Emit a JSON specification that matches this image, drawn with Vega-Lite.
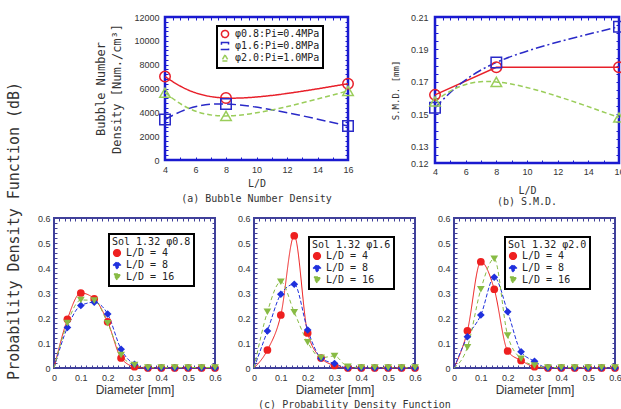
{
  "$schema": "https://vega.github.io/schema/vega-lite/v6.json",
  "background": "white",
  "padding": {"left": 7, "top": 11, "right": 0, "bottom": 0},
  "title": {"text": "Probability Density Function (dB)", "orient": "left", "anchor": "middle", "font": "DejaVu Sans Mono", "fontSize": 15, "fontWeight": "normal", "color": "#333", "offset": 14, "dx": -20},
  "config": {
    "view": {"stroke": null},
    "axis": {"labelFont": "Liberation Sans", "labelFontSize": 9, "labelColor": "#333", "titleFont": "DejaVu Sans Mono", "titleFontSize": 10, "titleFontWeight": "normal", "titleColor": "#333", "grid": false, "domain": false, "tickSize": 3, "offset": -3, "labelFlush": false, "labelOverlap": false, "labelBound": false},
    "title": {"font": "DejaVu Sans Mono", "fontSize": 10, "fontWeight": "normal", "color": "#333"},
    "legend": {"orient": "none", "strokeColor": "black", "strokeWidth": 2, "fillColor": "white", "labelFont": "DejaVu Sans Mono", "labelColor": "#222", "titleFont": "DejaVu Sans Mono", "titleFontWeight": "normal", "titleColor": "#222"}
  },
  "datasets": {
    "a": [
      {"ld": 4, "n": 7000, "s": "φ0.8:Pi=0.4MPa"},
      {"ld": 8, "n": 5200, "s": "φ0.8:Pi=0.4MPa"},
      {"ld": 16, "n": 6400, "s": "φ0.8:Pi=0.4MPa"},
      {"ld": 4, "n": 3400, "s": "φ1.6:Pi=0.8MPa"},
      {"ld": 8, "n": 4700, "s": "φ1.6:Pi=0.8MPa"},
      {"ld": 16, "n": 2850, "s": "φ1.6:Pi=0.8MPa"},
      {"ld": 4, "n": 5650, "s": "φ2.0:Pi=1.0MPa"},
      {"ld": 8, "n": 3700, "s": "φ2.0:Pi=1.0MPa"},
      {"ld": 16, "n": 5800, "s": "φ2.0:Pi=1.0MPa"}
    ],
    "b": [
      {"ld": 4, "smd": 0.162, "s": "φ0.8:Pi=0.4MPa"},
      {"ld": 8, "smd": 0.179, "s": "φ0.8:Pi=0.4MPa"},
      {"ld": 16, "smd": 0.179, "s": "φ0.8:Pi=0.4MPa"},
      {"ld": 4, "smd": 0.154, "s": "φ1.6:Pi=0.8MPa"},
      {"ld": 8, "smd": 0.182, "s": "φ1.6:Pi=0.8MPa"},
      {"ld": 16, "smd": 0.204, "s": "φ1.6:Pi=0.8MPa"},
      {"ld": 4, "smd": 0.158, "s": "φ2.0:Pi=1.0MPa"},
      {"ld": 8, "smd": 0.170, "s": "φ2.0:Pi=1.0MPa"},
      {"ld": 16, "smd": 0.148, "s": "φ2.0:Pi=1.0MPa"}
    ],
    "c": [
      {"p": "0.8", "d": 0, "ld4": 0, "ld8": 0, "ld16": 0},
      {"p": "0.8", "d": 0.05, "ld4": 0.195, "ld8": 0.162, "ld16": 0.18},
      {"p": "0.8", "d": 0.1, "ld4": 0.3, "ld8": 0.25, "ld16": 0.272},
      {"p": "0.8", "d": 0.15, "ld4": 0.277, "ld8": 0.263, "ld16": 0.27},
      {"p": "0.8", "d": 0.2, "ld4": 0.185, "ld8": 0.216, "ld16": 0.179},
      {"p": "0.8", "d": 0.25, "ld4": 0.04, "ld8": 0.075, "ld16": 0.052},
      {"p": "0.8", "d": 0.3, "ld4": 0.005, "ld8": 0.015, "ld16": 0.012},
      {"p": "0.8", "d": 0.35, "ld4": 0, "ld8": 0, "ld16": 0.002},
      {"p": "0.8", "d": 0.4, "ld4": 0, "ld8": 0, "ld16": 0.002},
      {"p": "0.8", "d": 0.45, "ld4": 0, "ld8": 0, "ld16": 0.002},
      {"p": "0.8", "d": 0.5, "ld4": 0, "ld8": 0, "ld16": 0.002},
      {"p": "0.8", "d": 0.55, "ld4": 0, "ld8": 0, "ld16": 0.002},
      {"p": "0.8", "d": 0.6, "ld4": 0, "ld8": 0, "ld16": 0.002},
      {"p": "1.6", "d": 0, "ld4": 0, "ld8": 0, "ld16": 0},
      {"p": "1.6", "d": 0.05, "ld4": 0.072, "ld8": 0.148, "ld16": 0.225},
      {"p": "1.6", "d": 0.1, "ld4": 0.212, "ld8": 0.295, "ld16": 0.345},
      {"p": "1.6", "d": 0.15, "ld4": 0.529, "ld8": 0.335, "ld16": 0.223},
      {"p": "1.6", "d": 0.2, "ld4": 0.14, "ld8": 0.152, "ld16": 0.103},
      {"p": "1.6", "d": 0.25, "ld4": 0.04, "ld8": 0.039, "ld16": 0.041},
      {"p": "1.6", "d": 0.3, "ld4": 0.01, "ld8": 0.018, "ld16": 0.048},
      {"p": "1.6", "d": 0.35, "ld4": 0, "ld8": 0, "ld16": 0.005},
      {"p": "1.6", "d": 0.4, "ld4": 0, "ld8": 0, "ld16": 0.002},
      {"p": "1.6", "d": 0.45, "ld4": 0, "ld8": 0, "ld16": 0.002},
      {"p": "1.6", "d": 0.5, "ld4": 0, "ld8": 0, "ld16": 0.002},
      {"p": "1.6", "d": 0.55, "ld4": 0, "ld8": 0, "ld16": 0.002},
      {"p": "1.6", "d": 0.6, "ld4": 0, "ld8": 0, "ld16": 0.002},
      {"p": "2.0", "d": 0, "ld4": 0, "ld8": 0, "ld16": 0},
      {"p": "2.0", "d": 0.05, "ld4": 0.149, "ld8": 0.125, "ld16": 0.083},
      {"p": "2.0", "d": 0.1, "ld4": 0.425, "ld8": 0.212, "ld16": 0.315},
      {"p": "2.0", "d": 0.15, "ld4": 0.315, "ld8": 0.363, "ld16": 0.437},
      {"p": "2.0", "d": 0.2, "ld4": 0.068, "ld8": 0.225, "ld16": 0.13},
      {"p": "2.0", "d": 0.25, "ld4": 0.03, "ld8": 0.065, "ld16": 0.037},
      {"p": "2.0", "d": 0.3, "ld4": 0.005, "ld8": 0.027, "ld16": 0.01},
      {"p": "2.0", "d": 0.35, "ld4": 0, "ld8": 0, "ld16": 0.002},
      {"p": "2.0", "d": 0.4, "ld4": 0, "ld8": 0, "ld16": 0.002},
      {"p": "2.0", "d": 0.45, "ld4": 0, "ld8": 0, "ld16": 0.002},
      {"p": "2.0", "d": 0.5, "ld4": 0, "ld8": 0, "ld16": 0.002},
      {"p": "2.0", "d": 0.55, "ld4": 0, "ld8": 0, "ld16": 0.002},
      {"p": "2.0", "d": 0.6, "ld4": 0, "ld8": 0, "ld16": 0.002}
    ]
  },
  "resolve": {"scale": {"color": "independent", "shape": "independent", "strokeDash": "independent"}, "legend": {"color": "independent", "shape": "independent", "strokeDash": "independent"}},
  "spacing": 4,
  "vconcat": [
    {
      "spacing": 0,
      "resolve": {"scale": {"color": "independent", "shape": "independent", "strokeDash": "independent"}, "legend": {"color": "independent", "shape": "independent", "strokeDash": "independent"}},
      "hconcat": [
        {"width": 39, "height": 100, "data": {"values": []}, "mark": "point"},
        {
          "spacing": 32,
          "resolve": {"scale": {"color": "independent", "shape": "independent", "strokeDash": "independent"}, "legend": {"color": "independent", "shape": "independent", "strokeDash": "independent"}},
          "hconcat": [
            {
              "width": 183, "height": 143,
              "data": {"name": "a"},
              "view": {"stroke": "#1a1ad0", "strokeWidth": 2.5},
              "title": {"text": "(a) Bubble Number Density", "orient": "bottom", "anchor": "middle", "offset": 6},
              "resolve": {"axis": {"x": "independent", "y": "independent"}},
              "encoding": {
                "x": {"field": "ld", "type": "quantitative", "scale": {"domain": [4, 16], "nice": false, "zero": false}, "axis": null},
                "y": {"field": "n", "type": "quantitative", "scale": {"domain": [0, 12000], "nice": false}, "axis": null},
                "color": {"field": "s", "type": "nominal", "title": null, "scale": {"domain": ["φ0.8:Pi=0.4MPa", "φ1.6:Pi=0.8MPa", "φ2.0:Pi=1.0MPa"], "range": ["#e8202a", "#2a2ac8", "#9acd5a"]}, "legend": {"legendX": 52, "legendY": 9, "padding": 3, "labelFontSize": 10, "rowPadding": -2, "symbolSize": 50, "symbolStrokeWidth": 1.5, "labelOffset": 5}}
              },
              "layer": [
                {
                  "mark": {"type": "line", "interpolate": "natural", "strokeWidth": 1.5},
                  "encoding": {
                    "x": {"field": "ld", "type": "quantitative", "scale": {"domain": [4, 16], "nice": false, "zero": false}, "axis": {"values": [4, 4.5, 5, 5.5, 6, 6.5, 7, 7.5, 8, 8.5, 9, 9.5, 10, 10.5, 11, 11.5, 12, 12.5, 13, 13.5, 14, 14.5, 15, 15.5, 16], "format": "d", "labelExpr": "datum.value % 2 == 0 ? datum.label : ''", "title": "L/D", "tickColor": "#1a1ad0", "labelPadding": 5, "titlePadding": 4}},
                    "y": {"field": "n", "type": "quantitative", "scale": {"domain": [0, 12000], "nice": false}, "axis": {"values": [0, 400, 800, 1200, 1600, 2000, 2400, 2800, 3200, 3600, 4000, 4400, 4800, 5200, 5600, 6000, 6400, 6800, 7200, 7600, 8000, 8400, 8800, 9200, 9600, 10000, 10400, 10800, 11200, 11600, 12000], "format": "d", "labelExpr": "datum.value % 2000 == 0 ? datum.label : ''", "title": ["Bubble Number", "Density [Num./cm³]"], "titleFontSize": 12, "titleLineHeight": 16, "titlePadding": 10, "labelPadding": 6, "tickColor": "#1a1ad0"}},
                    "strokeDash": {"field": "s", "type": "nominal", "scale": {"domain": ["φ0.8:Pi=0.4MPa", "φ1.6:Pi=0.8MPa", "φ2.0:Pi=1.0MPa"], "range": [[1, 0], [9, 4], [5, 3]]}, "legend": null}
                  }
                },
                {
                  "mark": {"type": "point", "filled": false, "size": 110, "strokeWidth": 1.5, "opacity": 1},
                  "encoding": {
                    "x": {"field": "ld", "type": "quantitative", "scale": {"domain": [4, 16], "nice": false, "zero": false}, "axis": {"orient": "top", "values": [4, 4.5, 5, 5.5, 6, 6.5, 7, 7.5, 8, 8.5, 9, 9.5, 10, 10.5, 11, 11.5, 12, 12.5, 13, 13.5, 14, 14.5, 15, 15.5, 16], "labels": false, "title": null, "tickColor": "#1a1ad0"}},
                    "y": {"field": "n", "type": "quantitative", "scale": {"domain": [0, 12000], "nice": false}, "axis": {"orient": "right", "values": [0, 400, 800, 1200, 1600, 2000, 2400, 2800, 3200, 3600, 4000, 4400, 4800, 5200, 5600, 6000, 6400, 6800, 7200, 7600, 8000, 8400, 8800, 9200, 9600, 10000, 10400, 10800, 11200, 11600, 12000], "labels": false, "title": null, "tickColor": "#1a1ad0"}},
                    "shape": {"field": "s", "type": "nominal", "title": null, "scale": {"domain": ["φ0.8:Pi=0.4MPa", "φ1.6:Pi=0.8MPa", "φ2.0:Pi=1.0MPa"], "range": ["circle", "square", "triangle-up"]}}
                  }
                }
              ]
            },
            {
              "width": 184, "height": 146,
              "data": {"name": "b"},
              "view": {"stroke": "#1a1ad0", "strokeWidth": 2.5},
              "title": {"text": "(b) S.M.D.", "orient": "bottom", "anchor": "middle", "offset": 2},
              "resolve": {"axis": {"x": "independent", "y": "independent"}},
              "encoding": {
                "x": {"field": "ld", "type": "quantitative", "scale": {"domain": [4, 16], "nice": false, "zero": false}, "axis": null},
                "y": {"field": "smd", "type": "quantitative", "scale": {"domain": [0.12, 0.21], "nice": false, "zero": false}, "axis": null},
                "color": {"field": "s", "type": "nominal", "scale": {"domain": ["φ0.8:Pi=0.4MPa", "φ1.6:Pi=0.8MPa", "φ2.0:Pi=1.0MPa"], "range": ["#e8202a", "#2a2ac8", "#9acd5a"]}, "legend": null}
              },
              "layer": [
                {
                  "transform": [{"filter": "datum.s == 'φ0.8:Pi=0.4MPa'"}],
                  "mark": {"type": "line", "interpolate": "linear", "strokeWidth": 1.5},
                  "encoding": {
                    "x": {"field": "ld", "type": "quantitative", "scale": {"domain": [4, 16], "nice": false, "zero": false}, "axis": {"values": [4, 4.5, 5, 5.5, 6, 6.5, 7, 7.5, 8, 8.5, 9, 9.5, 10, 10.5, 11, 11.5, 12, 12.5, 13, 13.5, 14, 14.5, 15, 15.5, 16], "format": "d", "labelExpr": "datum.value % 2 == 0 ? datum.label : ''", "title": "L/D", "tickColor": "#1a1ad0", "labelPadding": 4, "titlePadding": 9}},
                    "y": {"field": "smd", "type": "quantitative", "scale": {"domain": [0.12, 0.21], "nice": false, "zero": false}, "axis": {"values": [0.12, 0.125, 0.13, 0.135, 0.14, 0.145, 0.15, 0.155, 0.16, 0.165, 0.17, 0.175, 0.18, 0.185, 0.19, 0.195, 0.2, 0.205, 0.21], "labelExpr": "(round(datum.value*1000) % 20 == 10 || round(datum.value*1000) == 120) ? format(datum.value, '.2f') : ''", "title": "S.M.D. [mm]", "titleFontSize": 9, "titlePadding": 10, "labelPadding": 7, "tickColor": "#1a1ad0"}}
                  }
                },
                {
                  "transform": [{"filter": "datum.s != 'φ0.8:Pi=0.4MPa'"}],
                  "mark": {"type": "line", "interpolate": "natural", "strokeWidth": 1.5},
                  "encoding": {
                    "x": {"field": "ld", "type": "quantitative", "scale": {"domain": [4, 16], "nice": false, "zero": false}, "axis": null},
                    "y": {"field": "smd", "type": "quantitative", "scale": {"domain": [0.12, 0.21], "nice": false, "zero": false}, "axis": null},
                    "strokeDash": {"field": "s", "type": "nominal", "scale": {"domain": ["φ1.6:Pi=0.8MPa", "φ2.0:Pi=1.0MPa"], "range": [[9, 3, 2, 3], [5, 3]]}, "legend": null}
                  }
                },
                {
                  "mark": {"type": "point", "filled": false, "size": 110, "strokeWidth": 1.5, "opacity": 1},
                  "encoding": {
                    "x": {"field": "ld", "type": "quantitative", "scale": {"domain": [4, 16], "nice": false, "zero": false}, "axis": {"orient": "top", "values": [4, 4.5, 5, 5.5, 6, 6.5, 7, 7.5, 8, 8.5, 9, 9.5, 10, 10.5, 11, 11.5, 12, 12.5, 13, 13.5, 14, 14.5, 15, 15.5, 16], "labels": false, "title": null, "tickColor": "#1a1ad0"}},
                    "y": {"field": "smd", "type": "quantitative", "scale": {"domain": [0.12, 0.21], "nice": false, "zero": false}, "axis": {"orient": "right", "values": [0.12, 0.125, 0.13, 0.135, 0.14, 0.145, 0.15, 0.155, 0.16, 0.165, 0.17, 0.175, 0.18, 0.185, 0.19, 0.195, 0.2, 0.205, 0.21], "labels": false, "title": null, "tickColor": "#1a1ad0"}},
                    "shape": {"field": "s", "type": "nominal", "scale": {"domain": ["φ0.8:Pi=0.4MPa", "φ1.6:Pi=0.8MPa", "φ2.0:Pi=1.0MPa"], "range": ["circle", "square", "triangle-up"]}, "legend": null}
                  }
                }
              ]
            }
          ]
        }
      ]
    },
    {
      "spacing": 13,
      "title": {"text": "(c)  Probability Density Function", "orient": "bottom", "anchor": "middle", "offset": 4, "dx": 25},
      "resolve": {"scale": {"color": "independent", "shape": "independent", "strokeDash": "independent"}, "legend": {"color": "independent", "shape": "independent", "strokeDash": "independent"}},
      "hconcat": [
        {
          "width": 161, "height": 150,
          "data": {"name": "c"},
          "transform": [{"filter": "datum.p == '0.8'"}, {"fold": ["ld4", "ld8", "ld16"], "as": ["ld", "v"]}],
          "view": {"stroke": "#40409a", "strokeWidth": 2},
          "resolve": {"axis": {"x": "independent", "y": "independent"}},
          "encoding": {
            "x": {"field": "d", "type": "quantitative", "scale": {"domain": [0, 0.6], "nice": false}, "axis": null},
            "y": {"field": "v", "type": "quantitative", "scale": {"domain": [0, 0.6], "nice": false}, "axis": null},
            "color": {"field": "ld", "type": "nominal", "title": "Sol 1.32 φ0.8", "scale": {"domain": ["ld4", "ld8", "ld16"], "range": ["#ee2020", "#1f30dd", "#88bb44"]}, "legend": {"legendX": 55, "legendY": 16, "padding": 3, "titleFontSize": 10, "titlePadding": 1, "labelFontSize": 10, "rowPadding": -2, "symbolSize": 45, "labelExpr": "{'ld4': 'L/D = 4', 'ld8': 'L/D = 8', 'ld16': 'L/D = 16'}[datum.label]"}}
          },
          "layer": [
            {
              "mark": {"type": "line", "interpolate": "monotone", "strokeWidth": 1},
              "encoding": {
                "x": {"field": "d", "type": "quantitative", "scale": {"domain": [0, 0.6], "nice": false}, "axis": {"values": [0, 0.02, 0.04, 0.06, 0.08, 0.1, 0.12, 0.14, 0.16, 0.18, 0.2, 0.22, 0.24, 0.26, 0.28, 0.3, 0.32, 0.34, 0.36, 0.38, 0.4, 0.42, 0.44, 0.46, 0.48, 0.5, 0.52, 0.54, 0.56, 0.58, 0.6], "labelExpr": "round(datum.value*100) % 10 == 0 ? format(datum.value, '~f') : ''", "title": "Diameter [mm]", "titleFont": "Liberation Sans", "titleFontSize": 12, "titlePadding": 2, "labelPadding": 5, "tickColor": "#40409a"}},
                "y": {"field": "v", "type": "quantitative", "scale": {"domain": [0, 0.6], "nice": false}, "axis": {"values": [0, 0.02, 0.04, 0.06, 0.08, 0.1, 0.12, 0.14, 0.16, 0.18, 0.2, 0.22, 0.24, 0.26, 0.28, 0.3, 0.32, 0.34, 0.36, 0.38, 0.4, 0.42, 0.44, 0.46, 0.48, 0.5, 0.52, 0.54, 0.56, 0.58, 0.6], "labelExpr": "round(datum.value*100) % 10 == 0 ? format(datum.value, '~f') : ''", "title": null, "labelPadding": 4, "tickColor": "#40409a"}},
                "strokeDash": {"field": "ld", "type": "nominal", "scale": {"domain": ["ld4", "ld8", "ld16"], "range": [[1, 0], [4, 2], [4, 3]]}, "legend": null}
              }
            },
            {
              "transform": [{"filter": "datum.d > 0"}],
              "mark": {"type": "point", "filled": true, "size": 60, "opacity": 1},
              "encoding": {
                "x": {"field": "d", "type": "quantitative", "scale": {"domain": [0, 0.6], "nice": false}, "axis": {"orient": "top", "values": [0, 0.02, 0.04, 0.06, 0.08, 0.1, 0.12, 0.14, 0.16, 0.18, 0.2, 0.22, 0.24, 0.26, 0.28, 0.3, 0.32, 0.34, 0.36, 0.38, 0.4, 0.42, 0.44, 0.46, 0.48, 0.5, 0.52, 0.54, 0.56, 0.58, 0.6], "labels": false, "title": null, "tickColor": "#40409a"}},
                "y": {"field": "v", "type": "quantitative", "scale": {"domain": [0, 0.6], "nice": false}, "axis": {"orient": "right", "values": [0, 0.02, 0.04, 0.06, 0.08, 0.1, 0.12, 0.14, 0.16, 0.18, 0.2, 0.22, 0.24, 0.26, 0.28, 0.3, 0.32, 0.34, 0.36, 0.38, 0.4, 0.42, 0.44, 0.46, 0.48, 0.5, 0.52, 0.54, 0.56, 0.58, 0.6], "labels": false, "title": null, "tickColor": "#40409a"}},
                "shape": {"field": "ld", "type": "nominal", "title": "Sol 1.32 φ0.8", "scale": {"domain": ["ld4", "ld8", "ld16"], "range": ["circle", "diamond", "triangle-down"]}}
              }
            }
          ]
        },
        {
          "width": 161, "height": 150,
          "data": {"name": "c"},
          "transform": [{"filter": "datum.p == '1.6'"}, {"fold": ["ld4", "ld8", "ld16"], "as": ["ld", "v"]}],
          "view": {"stroke": "#40409a", "strokeWidth": 2},
          "resolve": {"axis": {"x": "independent", "y": "independent"}},
          "encoding": {
            "x": {"field": "d", "type": "quantitative", "scale": {"domain": [0, 0.6], "nice": false}, "axis": null},
            "y": {"field": "v", "type": "quantitative", "scale": {"domain": [0, 0.6], "nice": false}, "axis": null},
            "color": {"field": "ld", "type": "nominal", "title": "Sol 1.32 φ1.6", "scale": {"domain": ["ld4", "ld8", "ld16"], "range": ["#ee2020", "#1f30dd", "#88bb44"]}, "legend": {"legendX": 55, "legendY": 19, "padding": 3, "titleFontSize": 10, "titlePadding": 1, "labelFontSize": 10, "rowPadding": -2, "symbolSize": 45, "labelExpr": "{'ld4': 'L/D = 4', 'ld8': 'L/D = 8', 'ld16': 'L/D = 16'}[datum.label]"}}
          },
          "layer": [
            {
              "mark": {"type": "line", "interpolate": "monotone", "strokeWidth": 1},
              "encoding": {
                "x": {"field": "d", "type": "quantitative", "scale": {"domain": [0, 0.6], "nice": false}, "axis": {"values": [0, 0.02, 0.04, 0.06, 0.08, 0.1, 0.12, 0.14, 0.16, 0.18, 0.2, 0.22, 0.24, 0.26, 0.28, 0.3, 0.32, 0.34, 0.36, 0.38, 0.4, 0.42, 0.44, 0.46, 0.48, 0.5, 0.52, 0.54, 0.56, 0.58, 0.6], "labelExpr": "round(datum.value*100) % 10 == 0 ? format(datum.value, '~f') : ''", "title": "Diameter [mm]", "titleFont": "Liberation Sans", "titleFontSize": 12, "titlePadding": 2, "labelPadding": 5, "tickColor": "#40409a"}},
                "y": {"field": "v", "type": "quantitative", "scale": {"domain": [0, 0.6], "nice": false}, "axis": {"values": [0, 0.02, 0.04, 0.06, 0.08, 0.1, 0.12, 0.14, 0.16, 0.18, 0.2, 0.22, 0.24, 0.26, 0.28, 0.3, 0.32, 0.34, 0.36, 0.38, 0.4, 0.42, 0.44, 0.46, 0.48, 0.5, 0.52, 0.54, 0.56, 0.58, 0.6], "labelExpr": "round(datum.value*100) % 10 == 0 ? format(datum.value, '~f') : ''", "title": null, "labelPadding": 4, "tickColor": "#40409a"}},
                "strokeDash": {"field": "ld", "type": "nominal", "scale": {"domain": ["ld4", "ld8", "ld16"], "range": [[1, 0], [4, 2], [4, 3]]}, "legend": null}
              }
            },
            {
              "transform": [{"filter": "datum.d > 0"}],
              "mark": {"type": "point", "filled": true, "size": 60, "opacity": 1},
              "encoding": {
                "x": {"field": "d", "type": "quantitative", "scale": {"domain": [0, 0.6], "nice": false}, "axis": {"orient": "top", "values": [0, 0.02, 0.04, 0.06, 0.08, 0.1, 0.12, 0.14, 0.16, 0.18, 0.2, 0.22, 0.24, 0.26, 0.28, 0.3, 0.32, 0.34, 0.36, 0.38, 0.4, 0.42, 0.44, 0.46, 0.48, 0.5, 0.52, 0.54, 0.56, 0.58, 0.6], "labels": false, "title": null, "tickColor": "#40409a"}},
                "y": {"field": "v", "type": "quantitative", "scale": {"domain": [0, 0.6], "nice": false}, "axis": {"orient": "right", "values": [0, 0.02, 0.04, 0.06, 0.08, 0.1, 0.12, 0.14, 0.16, 0.18, 0.2, 0.22, 0.24, 0.26, 0.28, 0.3, 0.32, 0.34, 0.36, 0.38, 0.4, 0.42, 0.44, 0.46, 0.48, 0.5, 0.52, 0.54, 0.56, 0.58, 0.6], "labels": false, "title": null, "tickColor": "#40409a"}},
                "shape": {"field": "ld", "type": "nominal", "title": "Sol 1.32 φ1.6", "scale": {"domain": ["ld4", "ld8", "ld16"], "range": ["circle", "diamond", "triangle-down"]}}
              }
            }
          ]
        },
        {
          "width": 161, "height": 150,
          "data": {"name": "c"},
          "transform": [{"filter": "datum.p == '2.0'"}, {"fold": ["ld4", "ld8", "ld16"], "as": ["ld", "v"]}],
          "view": {"stroke": "#40409a", "strokeWidth": 2},
          "resolve": {"axis": {"x": "independent", "y": "independent"}},
          "encoding": {
            "x": {"field": "d", "type": "quantitative", "scale": {"domain": [0, 0.6], "nice": false}, "axis": null},
            "y": {"field": "v", "type": "quantitative", "scale": {"domain": [0, 0.6], "nice": false}, "axis": null},
            "color": {"field": "ld", "type": "nominal", "title": "Sol 1.32 φ2.0", "scale": {"domain": ["ld4", "ld8", "ld16"], "range": ["#ee2020", "#1f30dd", "#88bb44"]}, "legend": {"legendX": 51, "legendY": 19, "padding": 3, "titleFontSize": 10, "titlePadding": 1, "labelFontSize": 10, "rowPadding": -2, "symbolSize": 45, "labelExpr": "{'ld4': 'L/D = 4', 'ld8': 'L/D = 8', 'ld16': 'L/D = 16'}[datum.label]"}}
          },
          "layer": [
            {
              "mark": {"type": "line", "interpolate": "monotone", "strokeWidth": 1},
              "encoding": {
                "x": {"field": "d", "type": "quantitative", "scale": {"domain": [0, 0.6], "nice": false}, "axis": {"values": [0, 0.02, 0.04, 0.06, 0.08, 0.1, 0.12, 0.14, 0.16, 0.18, 0.2, 0.22, 0.24, 0.26, 0.28, 0.3, 0.32, 0.34, 0.36, 0.38, 0.4, 0.42, 0.44, 0.46, 0.48, 0.5, 0.52, 0.54, 0.56, 0.58, 0.6], "labelExpr": "round(datum.value*100) % 10 == 0 ? format(datum.value, '~f') : ''", "title": "Diameter [mm]", "titleFont": "Liberation Sans", "titleFontSize": 12, "titlePadding": 2, "labelPadding": 5, "tickColor": "#40409a"}},
                "y": {"field": "v", "type": "quantitative", "scale": {"domain": [0, 0.6], "nice": false}, "axis": {"values": [0, 0.02, 0.04, 0.06, 0.08, 0.1, 0.12, 0.14, 0.16, 0.18, 0.2, 0.22, 0.24, 0.26, 0.28, 0.3, 0.32, 0.34, 0.36, 0.38, 0.4, 0.42, 0.44, 0.46, 0.48, 0.5, 0.52, 0.54, 0.56, 0.58, 0.6], "labelExpr": "round(datum.value*100) % 10 == 0 ? format(datum.value, '~f') : ''", "title": null, "labelPadding": 4, "tickColor": "#40409a"}},
                "strokeDash": {"field": "ld", "type": "nominal", "scale": {"domain": ["ld4", "ld8", "ld16"], "range": [[1, 0], [4, 2], [4, 3]]}, "legend": null}
              }
            },
            {
              "transform": [{"filter": "datum.d > 0"}],
              "mark": {"type": "point", "filled": true, "size": 60, "opacity": 1},
              "encoding": {
                "x": {"field": "d", "type": "quantitative", "scale": {"domain": [0, 0.6], "nice": false}, "axis": {"orient": "top", "values": [0, 0.02, 0.04, 0.06, 0.08, 0.1, 0.12, 0.14, 0.16, 0.18, 0.2, 0.22, 0.24, 0.26, 0.28, 0.3, 0.32, 0.34, 0.36, 0.38, 0.4, 0.42, 0.44, 0.46, 0.48, 0.5, 0.52, 0.54, 0.56, 0.58, 0.6], "labels": false, "title": null, "tickColor": "#40409a"}},
                "y": {"field": "v", "type": "quantitative", "scale": {"domain": [0, 0.6], "nice": false}, "axis": {"orient": "right", "values": [0, 0.02, 0.04, 0.06, 0.08, 0.1, 0.12, 0.14, 0.16, 0.18, 0.2, 0.22, 0.24, 0.26, 0.28, 0.3, 0.32, 0.34, 0.36, 0.38, 0.4, 0.42, 0.44, 0.46, 0.48, 0.5, 0.52, 0.54, 0.56, 0.58, 0.6], "labels": false, "title": null, "tickColor": "#40409a"}},
                "shape": {"field": "ld", "type": "nominal", "title": "Sol 1.32 φ2.0", "scale": {"domain": ["ld4", "ld8", "ld16"], "range": ["circle", "diamond", "triangle-down"]}}
              }
            }
          ]
        }
      ]
    }
  ]
}
